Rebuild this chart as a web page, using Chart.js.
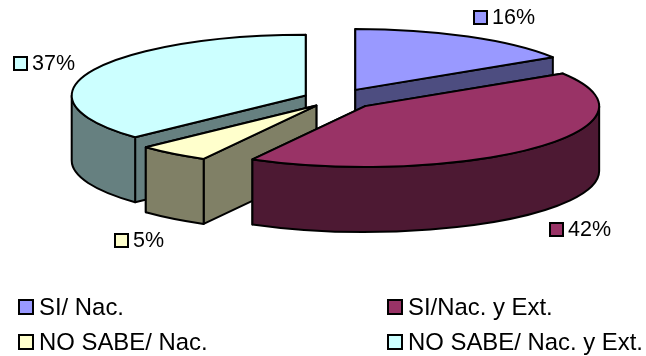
<!DOCTYPE html>
<html>
<head>
<meta charset="utf-8">
<title>SI / NO SABE</title>
<script src="https://cdn.jsdelivr.net/npm/chart.js@4/dist/chart.umd.min.js"></script>
<style>
  html, body { margin: 0; padding: 0; background: #fff; }
  canvas { display: block; }
</style>
</head>
<body>
<canvas id="pie" width="646" height="356"></canvas>
<script>
var categories = ['SI/ Nac.', 'SI/Nac. y Ext.', 'NO SABE/ Nac.', 'NO SABE/ Nac. y Ext.'];
var shares = [16, 42, 5, 37];
var topColors = ['#9999FF', '#993366', '#FFFFCC', '#CCFFFF'];
var sideColors = ['#4D4D80', '#4D1933', '#808066', '#668080'];

// Back to front, so nearer slices paint over farther ones
var paintOrder = [0, 3, 2, 1];

var VALUE_FONT = '21.5px "Liberation Sans", Arial, sans-serif';
var LEGEND_FONT = '23.9px "Liberation Sans", Arial, sans-serif';
var TILT = 0.26;   // vertical squash of the pie
var DEPTH = 65;    // height of the side walls
var EDGE = 2;

// Value label spots, one per slice: key box left, text baseline
var valueLabelX = [474, 550, 115, 14];
var valueLabelY = [24, 236, 247, 70];

// Legend grid
var legendX = [19, 388];
var legendY = [315, 350];

function drawRadialWall(ctx, c, angle) {
  var ex = c.x + c.r * Math.cos(angle);
  var ey = c.y + c.r * TILT * Math.sin(angle);
  ctx.beginPath();
  ctx.moveTo(c.x, c.y);
  ctx.lineTo(ex, ey);
  ctx.lineTo(ex, ey + DEPTH);
  ctx.lineTo(c.x, c.y + DEPTH);
  ctx.closePath();
  ctx.fill();
  ctx.stroke();
}

function drawSlice(ctx, arc, i) {
  var mid = (arc.startAngle + arc.endAngle) / 2;
  var offset = arc.options.offset;
  var c = {
    x: arc.x + offset * Math.cos(mid),
    y: arc.y + offset * TILT * Math.sin(mid),
    r: arc.outerRadius
  };
  var ry = c.r * TILT;

  // The radial face running further back goes first
  var walls = [arc.startAngle, arc.endAngle].sort(function(a, b) {
    return Math.sin(a) - Math.sin(b);
  });
  ctx.fillStyle = sideColors[i];
  drawRadialWall(ctx, c, walls[0]);
  drawRadialWall(ctx, c, walls[1]);

  // Outer wall only shows on the front half of the rim (0 to PI in canvas angles)
  var from = Math.max(arc.startAngle, 0);
  var to = Math.min(arc.endAngle, Math.PI);
  if (to > from) {
    ctx.beginPath();
    ctx.ellipse(c.x, c.y, c.r, ry, 0, from, to);
    ctx.ellipse(c.x, c.y + DEPTH, c.r, ry, 0, to, from, true);
    ctx.closePath();
    ctx.fill();
    ctx.stroke();
  }

  ctx.fillStyle = topColors[i];
  ctx.beginPath();
  ctx.moveTo(c.x, c.y);
  ctx.ellipse(c.x, c.y, c.r, ry, 0, arc.startAngle, arc.endAngle);
  ctx.closePath();
  ctx.fill();
  ctx.stroke();
}

function drawKey(ctx, x, y, size, color) {
  ctx.fillStyle = color;
  ctx.fillRect(x, y, size, size);
  ctx.strokeRect(x, y, size, size);
}

var pie3d = {
  id: 'pie3d',
  beforeDatasetsDraw: function(chart) {
    var ctx = chart.ctx;
    var arcs = chart.getDatasetMeta(0).data;
    ctx.save();
    ctx.strokeStyle = '#000';
    ctx.lineWidth = EDGE;
    ctx.lineJoin = 'round';
    paintOrder.forEach(function(i) {
      drawSlice(ctx, arcs[i], i);
    });
    ctx.restore();
    return false;
  },
  afterDraw: function(chart) {
    var ctx = chart.ctx;
    ctx.save();
    ctx.strokeStyle = '#000';
    ctx.lineWidth = EDGE;
    ctx.textBaseline = 'alphabetic';

    ctx.font = VALUE_FONT;
    shares.forEach(function(v, i) {
      drawKey(ctx, valueLabelX[i], valueLabelY[i] - 13, 13, topColors[i]);
      ctx.fillStyle = '#000';
      ctx.fillText(v + '%', valueLabelX[i] + 18, valueLabelY[i]);
    });

    ctx.font = LEGEND_FONT;
    categories.forEach(function(name, i) {
      var x = legendX[i % 2];
      var y = legendY[Math.floor(i / 2)];
      drawKey(ctx, x, y - 15, 14, topColors[i]);
      ctx.fillStyle = '#000';
      ctx.fillText(name, x + 20, y);
    });
    ctx.restore();
  }
};

new Chart(document.getElementById('pie'), {
  type: 'pie',
  data: {
    labels: categories,
    datasets: [{
      data: shares,
      backgroundColor: topColors,
      offset: [40, 40, 32, 33],
      radius: 234
    }]
  },
  options: {
    responsive: false,
    animation: false,
    layout: { padding: { left: 26, right: 0, top: 0, bottom: 158 } },
    plugins: {
      legend: { display: false },
      tooltip: { enabled: false }
    }
  },
  plugins: [pie3d]
});
</script>
</body>
</html>
